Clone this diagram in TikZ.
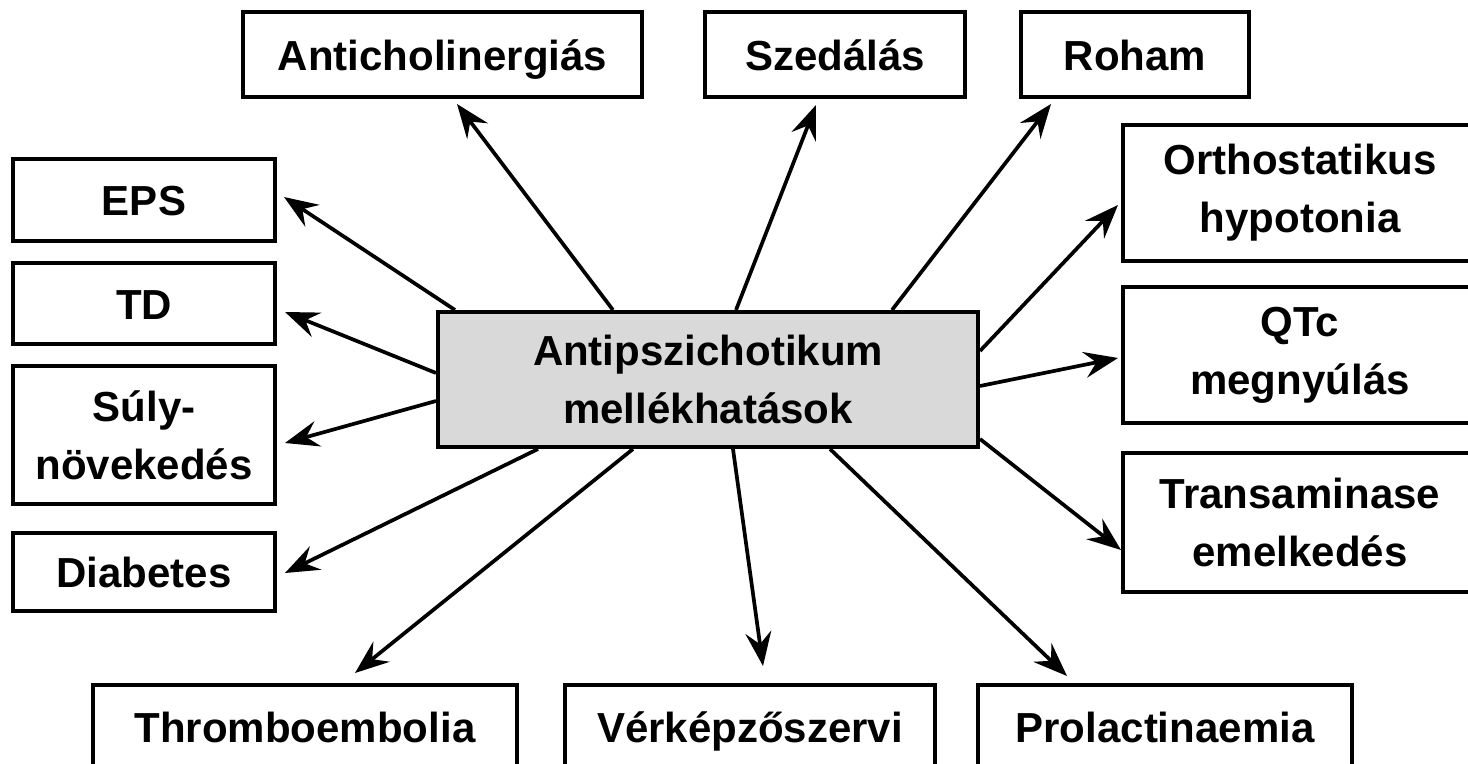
\documentclass[tikz,border=0pt]{standalone}
\usepackage{fontspec}
\setmainfont{Liberation Sans}
\usepackage{tikz}
\usetikzlibrary{arrows.meta,calc}
\tikzset{>={Stealth[length=17pt,width=13pt,inset=6pt]}}
\definecolor{hubgray}{HTML}{D9D9D9}
\tikzset{
  fx/.style={draw,line width=2pt,align=center,inner sep=0pt,
    font=\bfseries\fontsize{21}{29}\selectfont},
  oneline/.style={fx,text height=20pt,text depth=4pt},
  hub/.style={fx,fill=hubgray},
  ray/.style={->,line width=1.85pt},
}

\begin{document}
\begin{tikzpicture}[x=0.5pt,y=-0.5pt]
\useasboundingbox (0,0) rectangle (1468,764);
% centre
\node[hub,minimum width=270pt,minimum height=67.5pt] (main) at (708,379.5) {Antipszichotikum\\mellékhatások};
% top row
\node[oneline,minimum width=199.5pt,minimum height=42.5pt] (anti) at (442.5,54.5) {Anticholinergiás};
\node[oneline,minimum width=130pt,minimum height=42.5pt] (szed) at (835,54.5) {Szedálás};
\node[oneline,minimum width=114pt,minimum height=42.5pt] (roham) at (1135,54.5) {Roham};
% left column
\node[oneline,minimum width=131pt,minimum height=41pt] (eps) at (144,200) {EPS};
\node[oneline,minimum width=131pt,minimum height=40.5pt] (td) at (144,303.5) {TD};
\node[fx,minimum width=131pt,minimum height=69pt] (suly) at (144,435) {Súly-\\növekedés};
\node[oneline,minimum width=131pt,minimum height=39pt] (diab) at (144,572) {Diabetes};
% right column
\node[fx,minimum width=177pt,minimum height=68pt] (ortho) at (1300,193) {Orthostatikus\\hypotonia};
\node[fx,minimum width=177pt,minimum height=68pt] (qtc) at (1300,355) {QTc\\megnyúlás};
\node[fx,minimum width=177pt,minimum height=69.5pt] (trans) at (1300,522.5) {Transaminase\\emelkedés};
% bottom row
\node[oneline,minimum width=212pt,minimum height=41pt] (thrombo) at (305,726) {Thromboembolia};
\node[oneline,minimum width=185pt,minimum height=41pt] (verk) at (750,726) {Vérképzőszervi};
\node[oneline,minimum width=187pt,minimum height=41pt] (prol) at (1165,726) {Prolactinaemia};
% arrows
\draw[ray] ($(main.north west)+(177,0)$) -- ($(anti.south)+(14.5,5)$);
\draw[ray] ($(main.north west)+(300,0)$) -- ($(szed.south)+(-19,6)$);
\draw[ray] ($(main.north east)+(-88,0)$) -- ($(roham.south)+(-84,5)$);
\draw[ray] ($(main.north west)+(19,0)$) -- ($(eps.east)+(7,-3)$);
\draw[ray] ($(main.north west)+(0,63)$) -- ($(td.east)+(8,8.5)$);
\draw[ray] ($(main.north west)+(0,91)$) -- ($(suly.east)+(8,8)$);
\draw[ray] ($(main.south west)+(102,0)$) -- ($(diab.east)+(8,1)$);
\draw[ray] ($(main.north east)+(0,41)$) -- ($(ortho.west)+(-3,12)$);
\draw[ray] ($(main.north east)+(0,76)$) -- ($(qtc.west)+(-3,3)$);
\draw[ray] ($(main.south east)+(0,-10)$) -- ($(trans.west)+(0,27.5)$);
\draw[ray] ($(main.south west)+(197,0)$) -- ($(thrombo.north)+(50,-10)$);
\draw[ray] ($(main.south west)+(297,0)$) -- ($(verk.north)+(13,-17)$);
\draw[ray] ($(main.south west)+(394,0)$) -- ($(prol.north)+(-98,-7)$);
\end{tikzpicture}
\end{document}
